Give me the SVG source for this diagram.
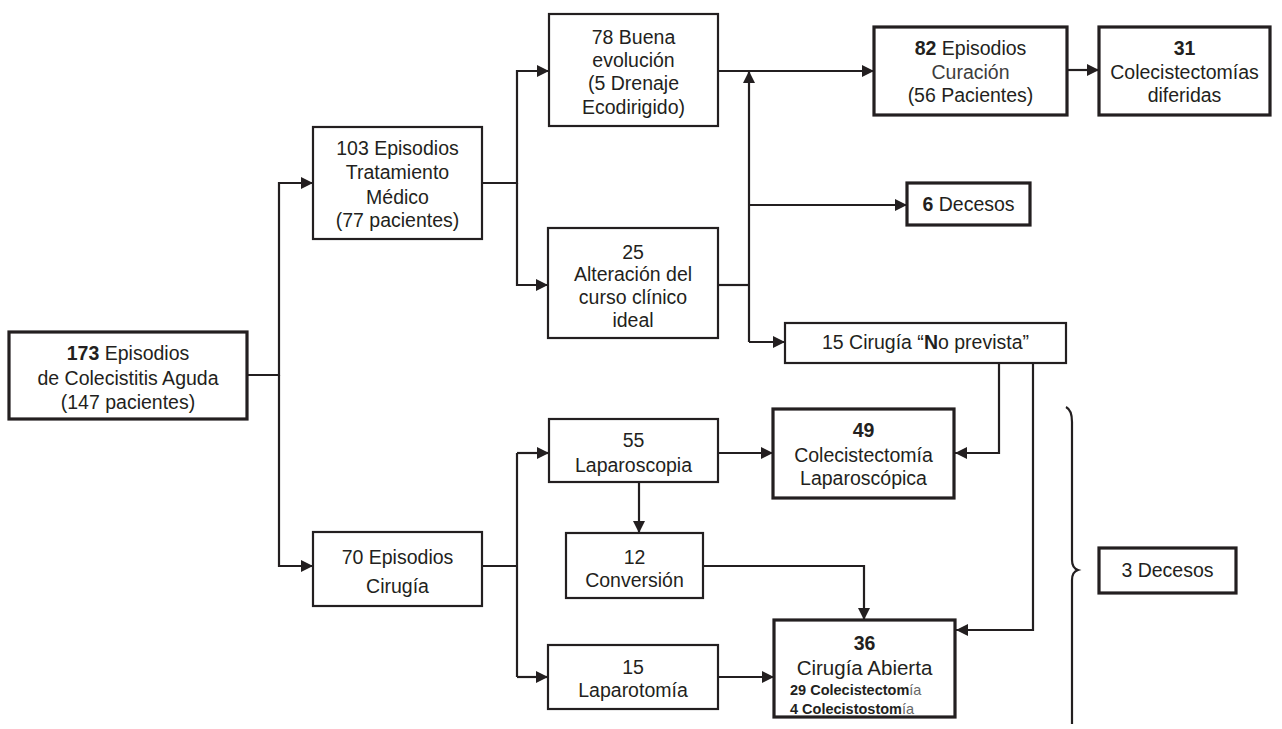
<svg xmlns="http://www.w3.org/2000/svg" width="1282" height="729" viewBox="0 0 1282 729">
<style>
text{font-family:"Liberation Sans",Arial,sans-serif;font-size:19.5px;fill:#231f20;text-anchor:middle}
.b{font-weight:bold}
.box{fill:#fff;stroke:#231f20;stroke-width:2.2}
.thick{fill:#fff;stroke:#231f20;stroke-width:3.2}
.c{fill:none;stroke:#231f20;stroke-width:2.2}
.sm{font-size:14.5px;font-weight:bold;text-anchor:start}
.lt{font-weight:normal;fill:#666}
</style>
<defs>
<marker id="ah" markerUnits="userSpaceOnUse" markerWidth="14" markerHeight="14" refX="12" refY="7" orient="auto">
<path d="M0,1 L12,7 L0,13 z" fill="#231f20"/>
</marker>
</defs>
<rect width="1282" height="729" fill="#fff"/>
<g id="connectors">
<path class="c" d="M247,375 H279 V183 H313" marker-end="url(#ah)"/>
<path class="c" d="M279,375 V566 H313" marker-end="url(#ah)"/>
<path class="c" d="M482,183 H517 V71 H549" marker-end="url(#ah)"/>
<path class="c" d="M517,183 V285 H548" marker-end="url(#ah)"/>
<path class="c" d="M718,71 H874" marker-end="url(#ah)"/>
<path class="c" d="M718,285 H749"/>
<path class="c" d="M749,342 V71" marker-end="url(#ah)"/>
<path class="c" d="M749,342 H785" marker-end="url(#ah)"/>
<path class="c" d="M749,205 H907" marker-end="url(#ah)"/>
<path class="c" d="M1067,70 H1099" marker-end="url(#ah)"/>
<path class="c" d="M999,363 V453 H955" marker-end="url(#ah)"/>
<path class="c" d="M1033,363 V630 H956" marker-end="url(#ah)"/>
<path class="c" d="M482,566 H517"/>
<path class="c" d="M517,453 V677"/>
<path class="c" d="M517,453 H549" marker-end="url(#ah)"/>
<path class="c" d="M517,677 H548" marker-end="url(#ah)"/>
<path class="c" d="M718,453 H773" marker-end="url(#ah)"/>
<path class="c" d="M639,482 V533" marker-end="url(#ah)"/>
<path class="c" d="M703,566 H864 V620" marker-end="url(#ah)"/>
<path class="c" d="M718,677 H774" marker-end="url(#ah)"/>
<path class="c" d="M1066,407 Q1072,410 1072,422 V560 Q1072,568 1078,570 Q1072,572 1072,580 V724"/>
</g>
<g id="n173">
<rect class="thick" x="9" y="332" width="238" height="87"/>
<text x="128" y="360"><tspan class="b">173</tspan> Episodios</text>
<text x="128" y="385">de Colecistitis Aguda</text>
<text x="128" y="409">(147 pacientes)</text>
</g>
<g id="n103">
<rect class="box" x="313" y="127" width="169" height="112"/>
<text x="397.5" y="155">103 Episodios</text>
<text x="397.5" y="179">Tratamiento</text>
<text x="397.5" y="204">Médico</text>
<text x="397.5" y="227">(77 pacientes)</text>
</g>
<g id="n78">
<rect class="box" x="549" y="14" width="169" height="112"/>
<text x="633.5" y="44">78 Buena</text>
<text x="633.5" y="67">evolución</text>
<text x="633.5" y="90">(5 Drenaje</text>
<text x="633.5" y="114">Ecodirigido)</text>
</g>
<g id="n25">
<rect class="box" x="548" y="228" width="170" height="110"/>
<text x="633" y="259">25</text>
<text x="633" y="281">Alteración del</text>
<text x="633" y="304">curso clínico</text>
<text x="633" y="327">ideal</text>
</g>
<g id="n82">
<rect class="thick" x="874" y="27" width="193" height="88"/>
<text x="970.5" y="55"><tspan class="b">82</tspan> Episodios</text>
<text x="970.5" y="79" style="fill:#3d3d3d">Curación</text>
<text x="970.5" y="102">(56 Pacientes)</text>
</g>
<g id="n31">
<rect class="thick" x="1099" y="27" width="171" height="88"/>
<text x="1184.5" y="55" class="b">31</text>
<text x="1184.5" y="79">Colecistectomías</text>
<text x="1184.5" y="102">diferidas</text>
</g>
<g id="n6dec">
<rect class="thick" x="907" y="183" width="123" height="42"/>
<text x="968.5" y="211"><tspan class="b">6</tspan> Decesos</text>
</g>
<g id="n15cir">
<rect class="box" x="785" y="323" width="281" height="40"/>
<text x="925.5" y="349">15 Cirugía “<tspan class="b">N</tspan>o prevista”</text>
</g>
<g id="n49">
<rect class="thick" x="773" y="409" width="181" height="89"/>
<text x="863.5" y="437" class="b">49</text>
<text x="863.5" y="462">Colecistectomía</text>
<text x="863.5" y="485">Laparoscópica</text>
</g>
<g id="n70">
<rect class="box" x="313" y="532" width="169" height="74"/>
<text x="397.5" y="564">70 Episodios</text>
<text x="397.5" y="593">Cirugía</text>
</g>
<g id="n55">
<rect class="box" x="549" y="419" width="169" height="63"/>
<text x="633.5" y="447">55</text>
<text x="633.5" y="472">Laparoscopia</text>
</g>
<g id="n12">
<rect class="box" x="566" y="533" width="137" height="65"/>
<text x="634.5" y="564">12</text>
<text x="634.5" y="587">Conversión</text>
</g>
<g id="n15lap">
<rect class="box" x="548" y="645" width="170" height="64"/>
<text x="633" y="674">15</text>
<text x="633" y="697">Laparotomía</text>
</g>
<g id="n36">
<rect class="thick" x="774" y="620" width="181" height="97"/>
<text x="864.5" y="650" class="b">36</text>
<text x="864.5" y="675" style="font-size:20.5px">Cirugía Abierta</text>
<text x="790" y="695" class="sm">29 Colecistectom<tspan class="lt">ía</tspan></text>
<text x="790" y="714" class="sm">4 Colecistostom<tspan class="lt">ía</tspan></text>
</g>
<g id="n3dec">
<rect class="thick" x="1099" y="548" width="137" height="45"/>
<text x="1167.5" y="577">3 Decesos</text>
</g>
</svg>
